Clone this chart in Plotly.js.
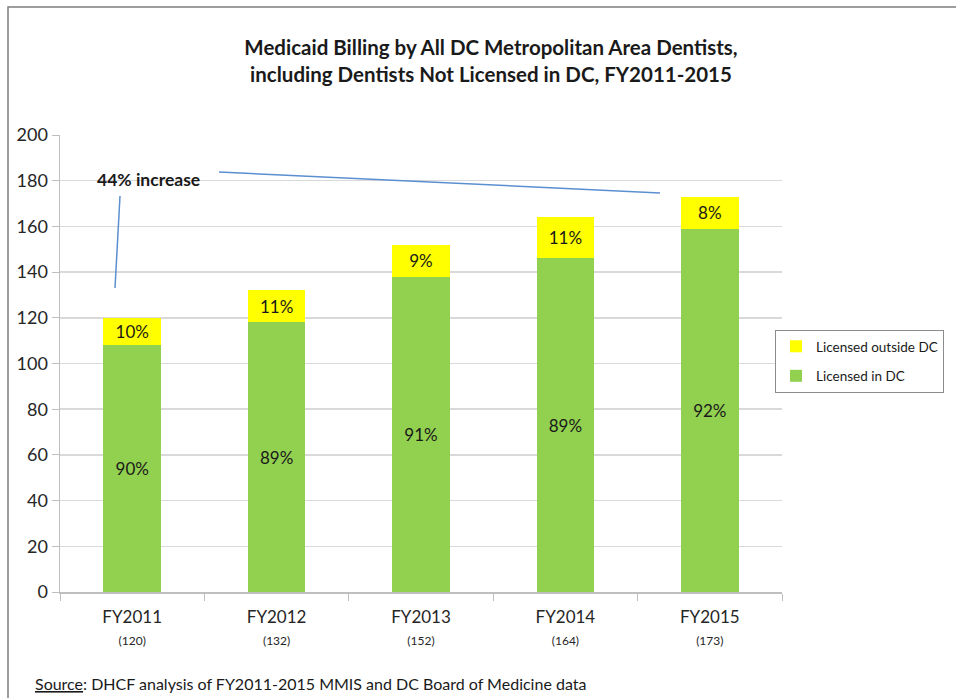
<!DOCTYPE html>
<html>
<head>
<meta charset="utf-8">
<script src="https://cdn.plot.ly/plotly-3.0.1.min.js"></script>
<style>
html,body{margin:0;padding:0;background:#fff;}
#chart{width:956px;height:698px;}
</style>
</head>
<body>
<div id="chart"></div>
<script>
// ---- data ----
var years = ['FY2011', 'FY2012', 'FY2013', 'FY2014', 'FY2015'];
var totals = [120, 132, 152, 164, 173];
var licensedInDC = [108, 118, 138, 146, 159];
var licensedOutsideDC = [12, 14, 14, 18, 14];
var inDCPct = ['90%', '89%', '91%', '89%', '92%'];
var outsidePct = ['10%', '11%', '9%', '11%', '8%'];
var yTicks = [0, 20, 40, 60, 80, 100, 120, 140, 160, 180, 200];

var FONT = 'Lato, "Liberation Sans", sans-serif';
var W = 956, H = 698;
var L = 60, R = 782, T = 135, B = 592;
var pw = R - L, ph = B - T;
function px(x) { return (x - L) / pw; }
function py(y) { return (B - y) / ph; }

var tickText = years.map(function (y, i) {
  return y + '<br><span style="font-size:12px">(' + totals[i] + ')</span>';
});

var traces = [
  {
    type: 'bar', name: 'Licensed in DC', x: years, y: licensedInDC,
    legendgroup: 'in', legendrank: 2,
    text: inDCPct, textposition: 'inside', insidetextanchor: 'middle',
    textfont: {family: FONT, size: 17, color: '#1a1a1a'},
    marker: {color: '#92d050'}, hoverinfo: 'x+y'
  },
  {
    type: 'bar', name: 'Licensed outside DC', x: years, y: licensedOutsideDC,
    legendgroup: 'out', legendrank: 1,
    text: outsidePct, textposition: 'inside', insidetextanchor: 'middle',
    textfont: {family: FONT, size: 17, color: '#1a1a1a'},
    marker: {color: '#ffff00'}, hoverinfo: 'x+y'
  }
];

var layout = {
  width: W, height: H,
  margin: {l: L, r: W - R, t: T, b: H - B, pad: 0},
  paper_bgcolor: '#ffffff', plot_bgcolor: '#ffffff',
  font: {family: FONT, color: '#1a1a1a'},
  barmode: 'stack', bargap: 0.6,
  title: {
    text: '<b>Medicaid Billing by All DC Metropolitan Area Dentists,<br>including Dentists Not Licensed in DC, FY2011-2015</b>',
    x: 491 / W, xanchor: 'center', y: 1 - 55 / H, yanchor: 'middle',
    font: {family: FONT, size: 20.5, color: '#1a1a1a'}
  },
  xaxis: {
    type: 'category', tickmode: 'array', tickvals: years, ticktext: tickText,
    tickfont: {family: FONT, size: 17, color: '#262626'},
    ticklabelstandoff: 9,
    showline: true, linecolor: '#bfbfbf', linewidth: 1.5,
    ticks: 'outside', tickson: 'boundaries', ticklen: 7, tickcolor: '#bfbfbf',
    showgrid: false, zeroline: false
  },
  yaxis: {
    range: [0, 200], tickmode: 'array', tickvals: yTicks,
    tickfont: {family: FONT, size: 18, color: '#262626'},
    showline: true, linecolor: '#bfbfbf', linewidth: 1.5,
    ticks: 'outside', ticklen: 7, tickcolor: '#bfbfbf',
    showgrid: true, gridcolor: '#d9d9d9', gridwidth: 1.5,
    zeroline: false
  },
  legend: {
    x: px(944), xanchor: 'right', y: py(330), yanchor: 'top',
    traceorder: 'grouped', tracegroupgap: 9, bgcolor: '#ffffff',
    bordercolor: '#8c8c8c', borderwidth: 1,
    font: {family: FONT, size: 13.5, color: '#1a1a1a'},
    itemwidth: 30
  },
  annotations: [
    {
      text: '<b>44% increase</b>', xref: 'paper', yref: 'y',
      x: px(148), y: 180.5, xanchor: 'center', yanchor: 'middle',
      showarrow: false, font: {family: FONT, size: 17.5, color: '#1a1a1a'}
    },
    {
      text: '<u>Source</u>: DHCF analysis of FY2011-2015 MMIS and DC Board of Medicine data',
      xref: 'paper', yref: 'paper', x: px(33), y: py(683),
      xanchor: 'left', yanchor: 'middle', showarrow: false,
      font: {family: FONT, size: 16, color: '#1a1a1a'}
    }
  ],
  shapes: [
    {type: 'rect', xref: 'paper', yref: 'paper',
     x0: px(8), x1: px(970), y0: py(710), y1: py(7),
     line: {color: '#7f7f7f', width: 1.5}, fillcolor: 'rgba(0,0,0,0)', layer: 'below'},
    {type: 'line', xref: 'paper', yref: 'paper',
     x0: px(115), y0: py(288), x1: px(120), y1: py(196),
     line: {color: '#5b8fd0', width: 1.5}},
    {type: 'line', xref: 'paper', yref: 'paper',
     x0: px(219), y0: py(172), x1: px(660), y1: py(193),
     line: {color: '#5b8fd0', width: 1.5}}
  ]
};

Plotly.newPlot('chart', traces, layout, {displayModeBar: false, staticPlot: true});
</script>
</body>
</html>
